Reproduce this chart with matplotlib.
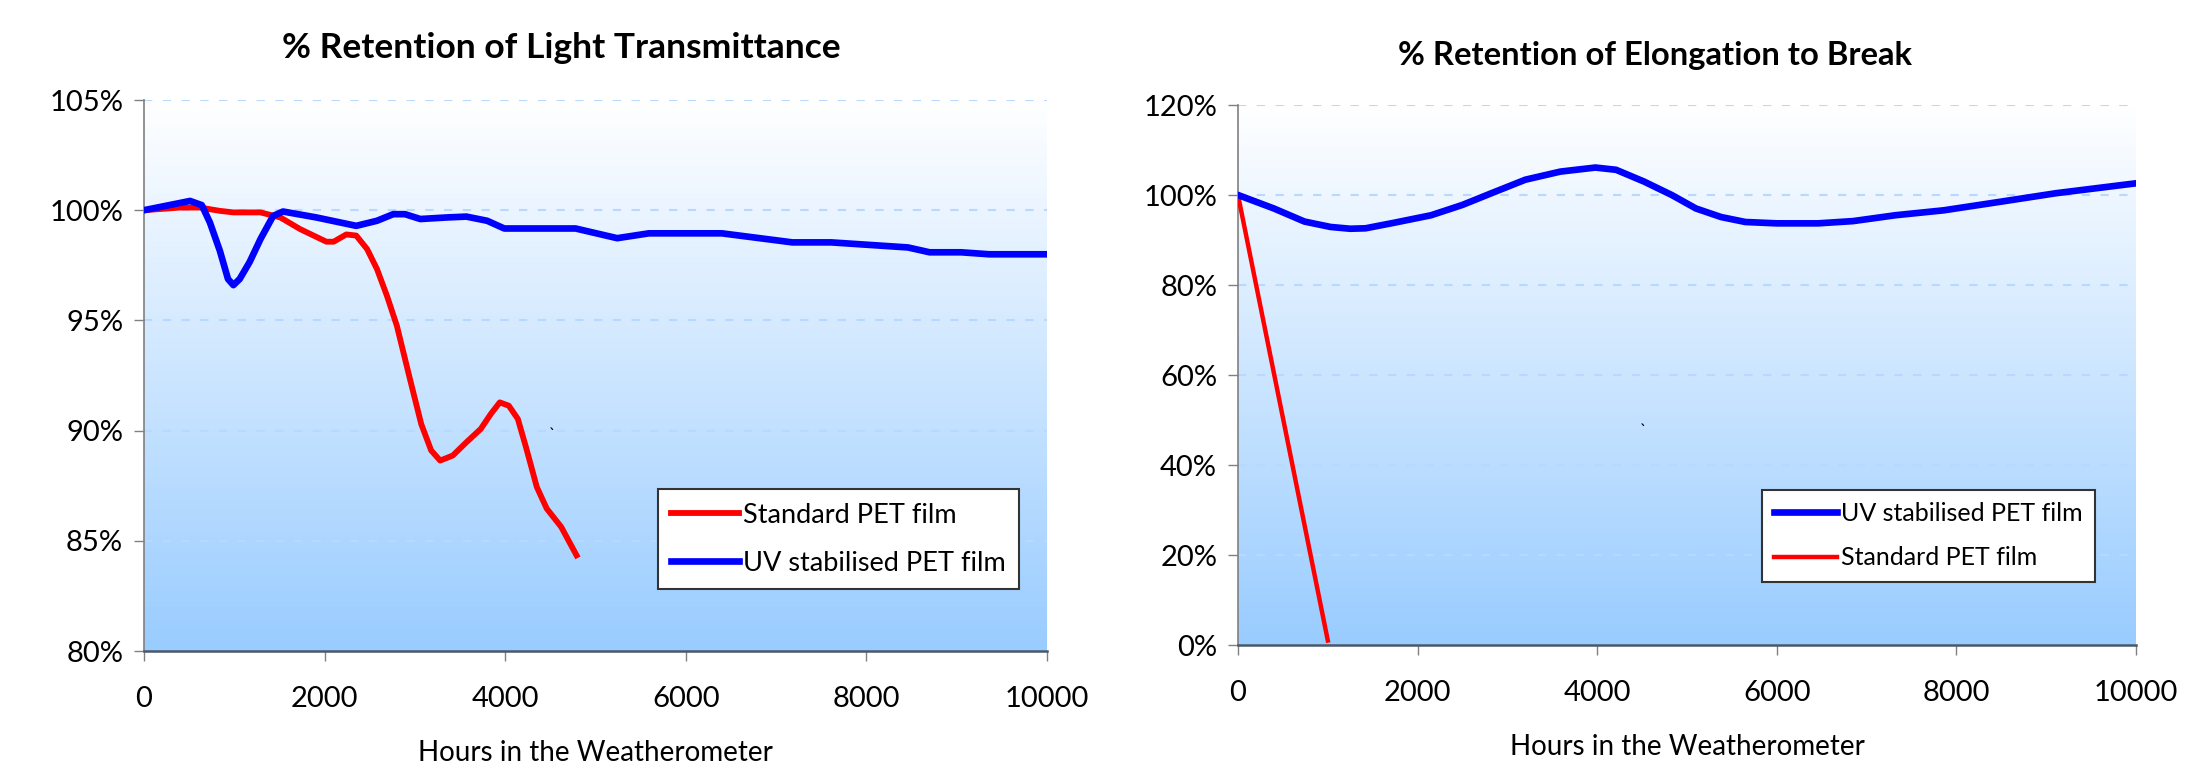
import numpy as np
import matplotlib
matplotlib.use("Agg")
import matplotlib.pyplot as plt
from matplotlib.colors import LinearSegmentedColormap
from matplotlib.ticker import FuncFormatter

plt.rcParams['font.family'] = ['Lato', 'DejaVu Sans']

# % retention of light transmittance vs hours
lt_std_hours = [0, 400, 620, 840, 990, 1290, 1510, 1730, 2020, 2100, 2240, 2350, 2470,
                2580, 2690, 2800, 2950, 3070, 3180, 3280, 3420, 3570, 3730, 3840, 3940,
                4040, 4140, 4230, 4350, 4460, 4620, 4790]
lt_std_pct = [100.0, 100.12, 100.12, 99.97, 99.9, 99.9, 99.67, 99.14, 98.57, 98.57, 98.9,
              98.85, 98.24, 97.33, 96.12, 94.76, 92.26, 90.3, 89.1, 88.64, 88.87, 89.47,
              90.08, 90.75, 91.28, 91.13, 90.53, 89.25, 87.44, 86.46, 85.63, 84.34]

lt_uv_hours = [0, 510, 640, 730, 840, 930, 990, 1060, 1170, 1290, 1430, 1540, 1910, 2350,
               2580, 2760, 2890, 3060, 3350, 3570, 3800, 3990, 4780, 5240, 5590, 6400,
               7180, 7610, 8460, 8700, 9050, 9360, 10000]
lt_uv_pct = [100.0, 100.42, 100.23, 99.44, 98.16, 96.88, 96.6, 96.88, 97.65, 98.69, 99.74,
             99.94, 99.67, 99.29, 99.52, 99.82, 99.82, 99.6, 99.67, 99.71, 99.52, 99.17,
             99.17, 98.73, 98.95, 98.95, 98.54, 98.54, 98.31, 98.09, 98.09, 98.0, 98.0]

# % retention of elongation to break vs hours
eb_uv_hours = [0, 400, 740, 1030, 1250, 1420, 1730, 2150, 2500, 2810, 3200, 3590, 3980,
               4210, 4520, 4830, 5100, 5380, 5650, 6000, 6460, 6850, 7320, 7860, 8490,
               9110, 10000]
eb_uv_pct = [100.0, 97.0, 94.1, 92.9, 92.5, 92.6, 93.8, 95.5, 97.8, 100.3, 103.4, 105.2,
             106.1, 105.6, 103.0, 100.0, 97.0, 95.1, 94.0, 93.7, 93.7, 94.2, 95.5, 96.6,
             98.5, 100.4, 102.6]
eb_std_hours = [0, 1000]
eb_std_pct = [100.0, 1.0]

STD_COLOR = '#ff0000'
UV_COLOR = '#0000ff'
sky = LinearSegmentedColormap.from_list('sky', ['#ffffff', '#99ccff'])


def pct(v, pos):
    return f'{v:.0f}%'


def style_axes(ax, ymin, ymax, ystep):
    grad = np.linspace(0, 1, 256).reshape(-1, 1)
    ax.imshow(grad, cmap=sky, aspect='auto', extent=[0, 10000, ymin, ymax],
              zorder=0, interpolation='bilinear')
    ax.set_xlim(0, 10000)
    ax.set_ylim(ymin, ymax)
    ax.set_xticks(np.arange(0, 10001, 2000))
    ax.set_yticks(np.arange(ymin, ymax + 0.01, ystep))
    ax.yaxis.set_major_formatter(FuncFormatter(pct))
    for y in np.arange(ymin + ystep, ymax + 0.01, ystep):
        ax.axhline(y, color='#b8d8ff', lw=1.5, ls=(0, (4, 5)), zorder=1)
    for side in ('top', 'right'):
        ax.spines[side].set_visible(False)
    ax.spines['left'].set_color('#808080')
    ax.spines['left'].set_linewidth(1.2)
    ax.spines['bottom'].set_color('#4a5868')
    ax.spines['bottom'].set_linewidth(1.8)
    ax.tick_params(axis='both', direction='out', length=7, width=1, color='#808080',
                   labelsize=21)
    ax.tick_params(axis='y', pad=8)
    ax.tick_params(axis='x', pad=18)


def add_legend(ax, anchor, size):
    leg = ax.legend(loc='lower left', bbox_to_anchor=anchor, borderaxespad=0, fontsize=size,
                    fancybox=False, framealpha=1, edgecolor='#333333', handlelength=2.5,
                    handletextpad=0.15, borderpad=0.5, labelspacing=0.85)
    leg.get_frame().set_linewidth(1.5)
    return leg


fig = plt.figure(figsize=(21.94, 7.64), dpi=100)
ax1 = fig.add_axes([144 / 2194, 1 - 651 / 764, 903 / 2194, 551 / 764])
ax2 = fig.add_axes([1238 / 2194, 1 - 645 / 764, 898 / 2194, 540 / 764])

# light transmittance
style_axes(ax1, 80, 105, 5)
ax1.plot(lt_std_hours, lt_std_pct, color=STD_COLOR, lw=4.2, label='Standard PET film',
         zorder=3, solid_joinstyle='round')
ax1.plot(lt_uv_hours, lt_uv_pct, color=UV_COLOR, lw=4.8, label='UV stabilised PET film',
         zorder=4, solid_joinstyle='round')
ax1.text(4526, 89.8, '`', fontsize=12, ha='center', va='center')
add_legend(ax1, (0.569, 0.112), 19.5)
ax1.set_xlabel('Hours in the Weatherometer', fontsize=20)
ax1.xaxis.set_label_coords(0.5, -0.185)
ax1.xaxis.label.set_va('center')
fig.text(561 / 2194, 1 - 48 / 764, '% Retention of Light Transmittance',
         fontsize=25.5, fontweight='bold', ha='center', va='center')

# elongation to break
style_axes(ax2, 0, 120, 20)
ax2.plot(eb_uv_hours, eb_uv_pct, color=UV_COLOR, lw=4.8, label='UV stabilised PET film',
         zorder=4, solid_joinstyle='round')
ax2.plot(eb_std_hours, eb_std_pct, color=STD_COLOR, lw=3.2, label='Standard PET film',
         zorder=3)
ax2.text(4507, 47.6, '`', fontsize=12, ha='center', va='center')
add_legend(ax2, (0.5835, 0.117), 18)
ax2.set_xlabel('Hours in the Weatherometer', fontsize=20)
ax2.xaxis.set_label_coords(0.5, -0.189)
ax2.xaxis.label.set_va('center')
fig.text(1655 / 2194, 1 - 55 / 764, '% Retention of Elongation to Break',
         fontsize=23.6, fontweight='bold', ha='center', va='center')

fig.savefig('out.png', dpi=100)
